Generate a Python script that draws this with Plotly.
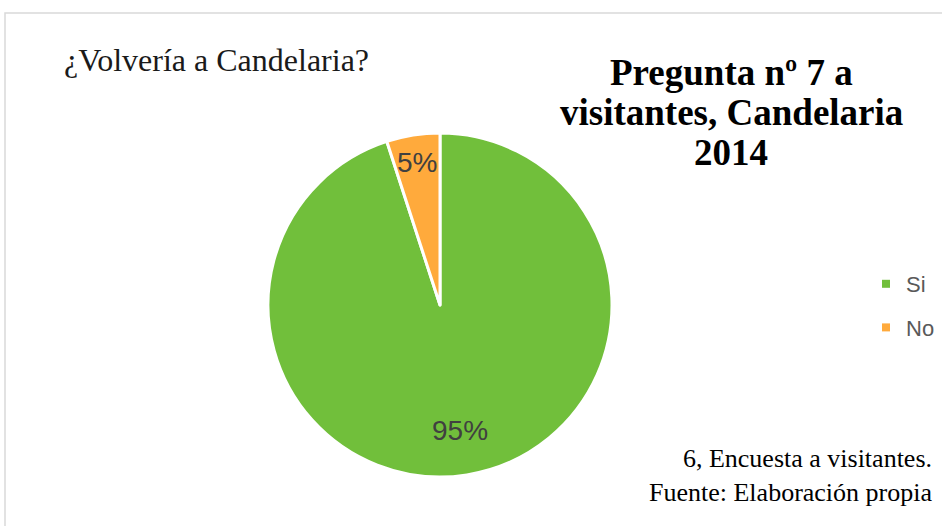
import math
import plotly.graph_objects as go

labels = ["Si", "No"]
values = [95, 5]
colors = ["#71BF3B", "#FFAA3C"]
label_radius = [0.74, 0.84]  # fraction of pie radius where the percent labels sit

W, H = 942, 526
cx, cy, r = 440, 305, 172

fig = go.Figure(go.Pie(
    labels=labels, values=values, sort=False, direction="clockwise", rotation=0,
    marker=dict(colors=colors, line=dict(color="white", width=3)),
    textinfo="none", hoverinfo="label+percent",
    domain=dict(x=[(cx - r) / W, (cx + r) / W], y=[1 - (cy + r) / H, 1 - (cy - r) / H]),
    showlegend=False,
))

# legend entries (square swatches) for each category, spaced like the original
for i, (lab, col) in enumerate(zip(labels, colors)):
    fig.add_trace(go.Scatter(x=[None], y=[None], mode="markers", name=lab,
                             legendgroup=f"g{i}", showlegend=True,
                             marker=dict(symbol="square", size=8, color=col)))

total = sum(values)
cum = 0
annos = []
for v, fr in zip(values, label_radius):
    mid = (cum + v / 2) / total * 2 * math.pi  # clockwise from 12 o'clock
    cum += v
    px = cx + fr * r * math.sin(mid)
    py = cy - fr * r * math.cos(mid)
    annos.append(dict(text=f"{round(100 * v / total)}%", x=px / W, y=1 - py / H,
                      xref="paper", yref="paper", xanchor="center", yanchor="middle",
                      showarrow=False,
                      font=dict(family="Liberation Sans, Arial", size=28, color="#404040")))

title_lines = ["Pregunta nº 7 a", "visitantes, Candelaria", "2014"]
for i, t in enumerate(title_lines):
    annos.append(dict(text=f"<b>{t}</b>", x=731 / W, y=1 - (72 + 40 * i) / H,
                      xref="paper", yref="paper", xanchor="center", yanchor="middle",
                      showarrow=False,
                      font=dict(family="Liberation Serif, Times New Roman", size=37, color="black")))

annos += [
    dict(text="¿Volvería a Candelaria?", x=62 / W, y=1 - 60 / H, xref="paper", yref="paper",
         xanchor="left", yanchor="middle", showarrow=False,
         font=dict(family="Liberation Serif, Times New Roman", size=32, color="#1a1a1a")),
    dict(text="6, Encuesta a visitantes.<br>Fuente: Elaboración propia", x=934 / W, y=1 - 475 / H,
         xref="paper", yref="paper", xanchor="right", yanchor="middle", showarrow=False,
         align="right",
         font=dict(family="Liberation Serif, Times New Roman", size=26, color="black")),
]

fig.update_layout(
    width=W, height=H, margin=dict(l=0, r=0, t=0, b=0),
    paper_bgcolor="white", plot_bgcolor="rgba(0,0,0,0)",
    xaxis=dict(visible=False), yaxis=dict(visible=False),
    legend=dict(x=866 / W, y=1 - 263 / H, xanchor="left", yanchor="top",
                font=dict(family="Liberation Sans, Arial", size=22, color="#595959"),
                tracegroupgap=12, bgcolor="rgba(0,0,0,0)", itemwidth=30),
    shapes=[dict(type="rect", xref="paper", yref="paper", x0=5 / W, x1=1.01, y0=-0.01, y1=1 - 13 / H,
                 line=dict(color="#D9D9D9", width=1.5))],
    annotations=annos,
)

fig.write_html("out.html", config={"displayModeBar": False},
               post_script="document.body.style.margin='0';document.body.style.overflow='hidden';")
